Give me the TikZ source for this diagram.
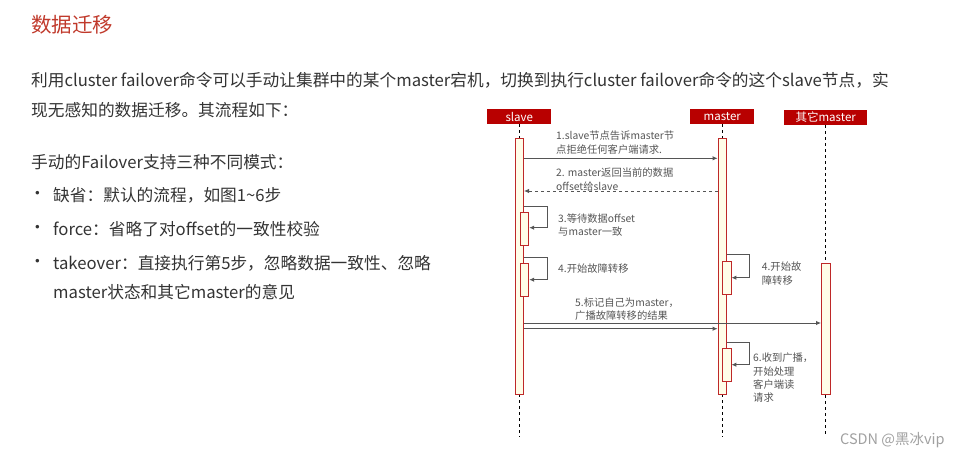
\documentclass[tikz,border=0pt]{standalone}
\usepackage{fontspec}
\setmainfont{Noto Sans CJK SC}
\usetikzlibrary{arrows.meta}
\definecolor{titlered}{RGB}{192,57,43}
\definecolor{headred}{RGB}{184,0,0}
\definecolor{barred}{RGB}{190,40,40}
\definecolor{barfill}{RGB}{255,253,232}
\definecolor{msggray}{RGB}{85,85,85}
\definecolor{bodygray}{RGB}{51,51,51}
\definecolor{markgray}{RGB}{160,160,160}

\begin{document}
\begin{tikzpicture}[x=1pt,y=-1pt,
  head/.style={fill=headred,text=white,font=\fontsize{11.5}{11.5}\selectfont,minimum height=15pt,inner sep=0pt},
  lifeline/.style={dash pattern=on 3pt off 3pt,line width=0.8pt},
  bar/.style={draw=barred,fill=barfill,line width=0.8pt,minimum width=8.6pt,inner sep=0pt,anchor=north},
  msg/.style={draw=msggray,line width=0.9pt,-{Latex[length=5pt,width=4.5pt]}},
  lbl/.style={text=msggray,font=\fontsize{10.3}{13.3}\selectfont,align=left,anchor=west,inner sep=0pt},
  body/.style={text=bodygray,font=\fontsize{16.7}{16.7}\selectfont,anchor=west,inner sep=0pt}]
\useasboundingbox (0,0) rectangle (960,457);

\node[body,text=titlered,font=\fontsize{20.5}{20.5}\selectfont] (title) at (31,25) {数据迁移};
\node[body] (para1) at (31,80) {利用cluster failover命令可以手动让集群中的某个master宕机，切换到执行cluster failover命令的这个slave节点，实};
\node[body] (para2) at (31,110) {现无感知的数据迁移。其流程如下：};
\node[body] (modes) at (31,162) {手动的Failover支持三种不同模式：};
\foreach \y/\t [count=\i] in {195/{缺省：默认的流程，如图1{\char`\~}6步},229/{force：省略了对offset的一致性校验},263/{takeover：直接执行第5步，忽略数据一致性、忽略}} {
  \node[body] (dot\i) at (29,\y) {•};
  \node[body] (item\i) at (53,\y) {\t};
}
\node[body] (item4) at (53,292) {master状态和其它master的意见};

\node[head,minimum width=64pt] (hslave) at (519.3,116.5) {slave};
\node[head,minimum width=64pt] (hmaster) at (722.3,116.5) {master};
\node[head,minimum width=83pt] (hother) at (825.7,117.5) {其它master};

\coordinate (end) at (0,437);
\draw[lifeline] (hslave.south) -- (hslave.south |- end);
\draw[lifeline] (hmaster.south) -- (hmaster.south |- end);
\draw[lifeline] (hother.south) -- (hother.south |- end);

\node[bar,minimum height=256pt] (sl) at (519.3,138) {};
\node[bar,minimum height=256pt] (ma) at (722.3,138) {};
\node[bar,minimum height=131pt] (om) at (825.7,263) {};
\node[bar,minimum height=33pt] (sl3) at (524.5,212) {};
\node[bar,minimum height=33pt] (sl4) at (524.5,263) {};
\node[bar,minimum height=33pt] (ma4) at (726.7,261) {};
\node[bar,minimum height=33pt] (ma6) at (726.7,348) {};

\draw[msg] (sl.east |- 0,158.3) -- (ma.west |- 0,158.3);
\node[lbl] (m1) at (556,142.5) {1.slave节点告诉master节\\点拒绝任何客户端请求.};
\draw[msg,dashed] (ma.west |- 0,191) -- (sl.east |- 0,191);
\node[lbl] (m2) at (556,179.5) {2. master返回当前的数据\\offset给slave};
\draw[msg] (sl.east |- 0,206) -- ++(23.4,0) |- (sl3.east |- 0,227.7);
\node[lbl] (m3) at (558,225) {3.等待数据offset\\与master一致};
\draw[msg] (sl.east |- 0,257) -- ++(23.4,0) |- (sl4.east |- 0,279.7);
\node[lbl] (m4) at (558,269) {4.开始故障转移};
\draw[msg] (ma.east |- 0,254.7) -- ++(22.7,0) |- (ma4.east |- 0,277.7);
\node[lbl] (m4b) at (761.7,273.5) {4.开始故\\障转移};
\draw[msg] (sl.east |- 0,323) -- (om.west |- 0,323);
\draw[msg] (sl.east |- 0,328.7) -- (ma.west |- 0,328.7);
\node[lbl] (m5) at (575,309) {5.标记自己为master，\\广播故障转移的结果};
\draw[msg] (ma.east |- 0,342) -- ++(22.7,0) |- (ma6.east |- 0,364.7);
\node[lbl] (m6) at (753,378) {6.收到广播，\\开始处理\\客户端读\\请求};

\node[body,text=markgray,font=\fontsize{14.5}{14.5}\selectfont] (mark) at (840,440) {CSDN @黑冰vip};
\end{tikzpicture}
\end{document}
